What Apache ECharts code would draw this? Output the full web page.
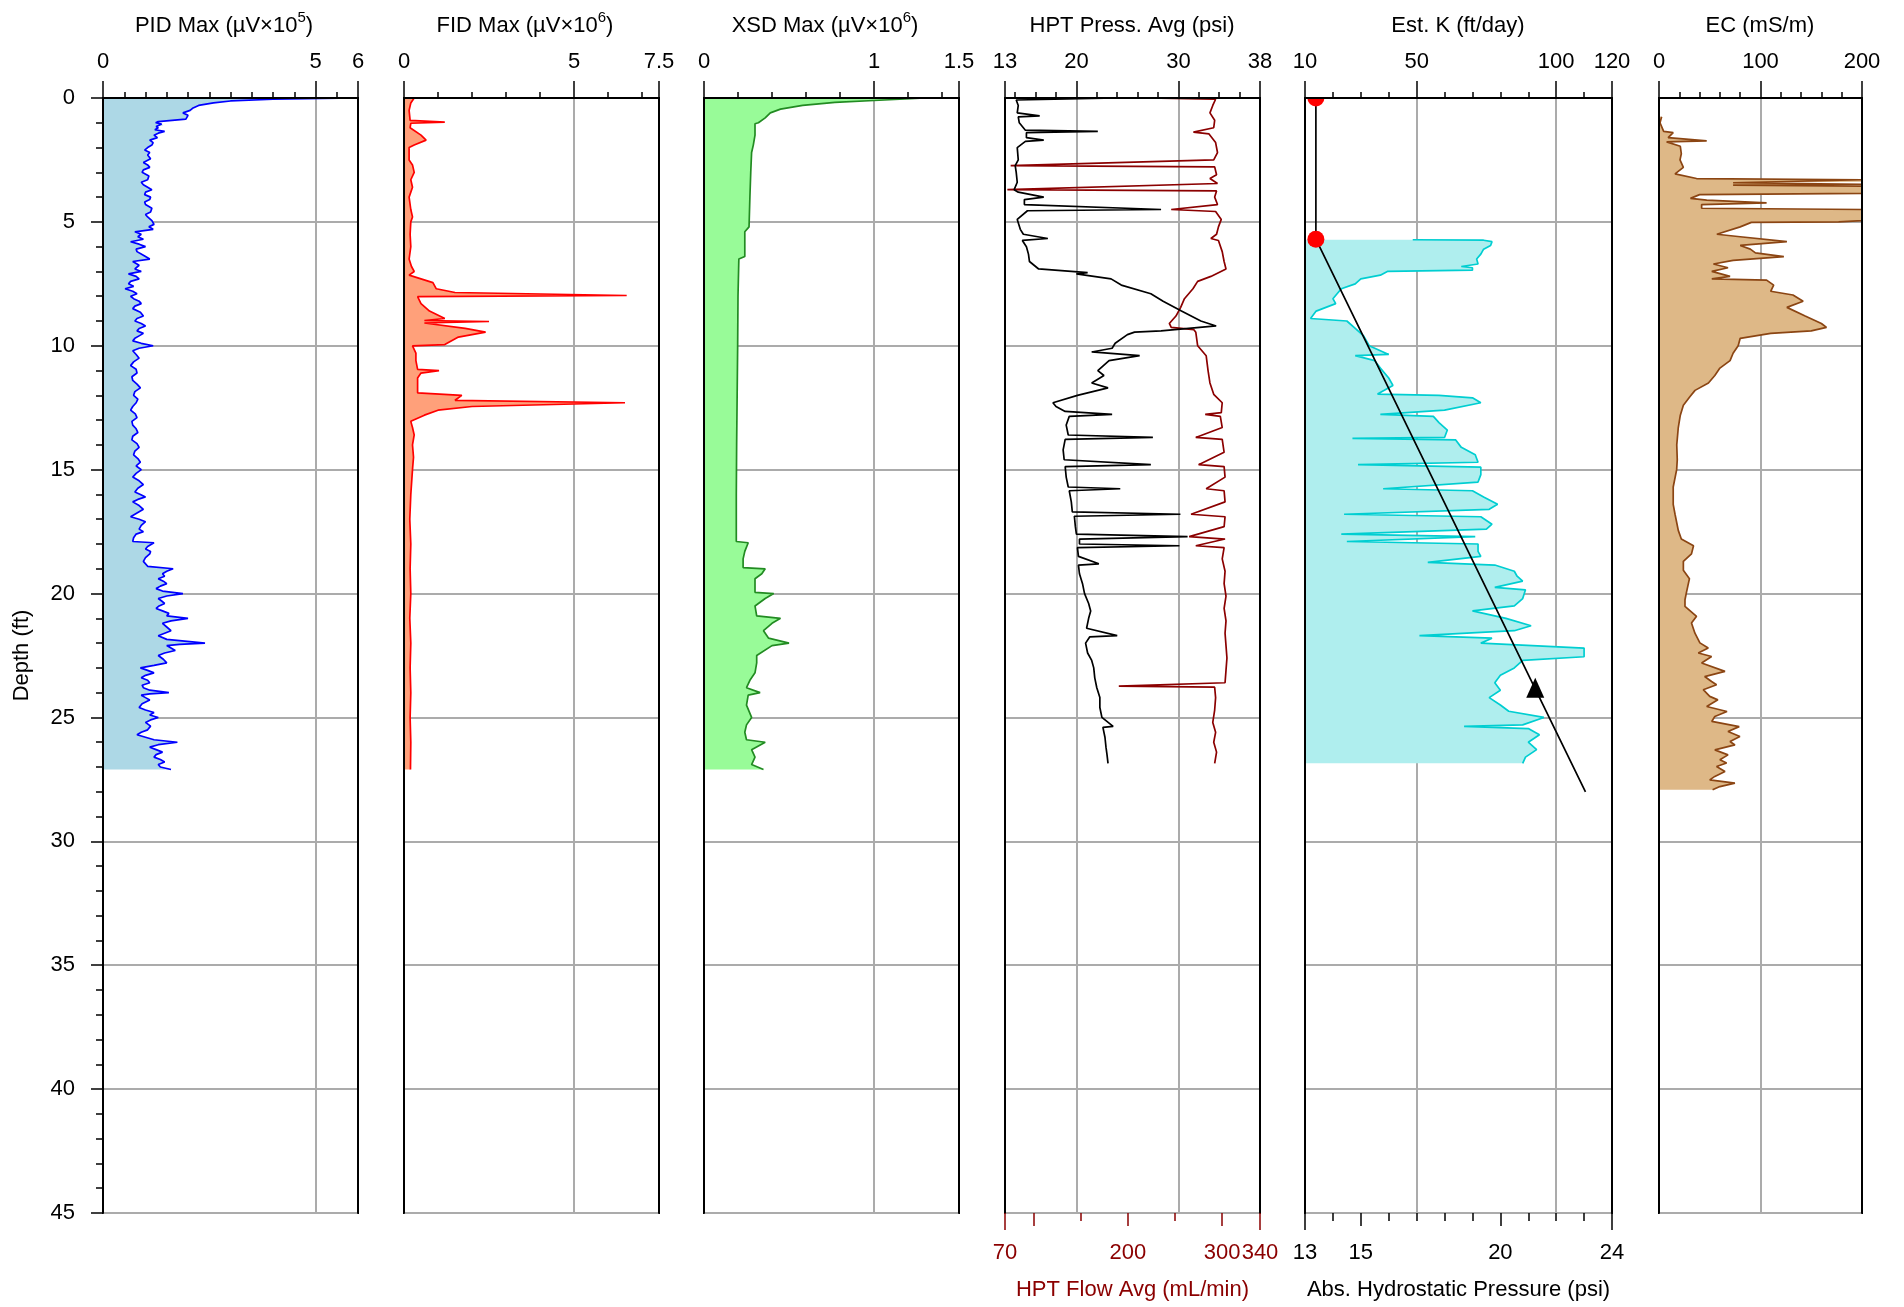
<!DOCTYPE html>
<html><head><meta charset="utf-8">
<script src="https://cdn.jsdelivr.net/npm/echarts@6/dist/echarts.min.js"></script>
<style>html,body{margin:0;padding:0;background:#fff}#c{width:1904px;height:1307px}</style>
</head><body><div id="c"></div>
<script>
// ---------- DATA: [depth (ft), value] ----------
const pidData = [[0,5.95],[0.05,4.0],[0.12,3.0],[0.2,2.6],[0.3,2.25],[0.4,2.12],[0.5,2.05],[0.6,1.88],[0.7,2.0],[0.85,1.95],[0.95,1.3],[1.0,1.24],[1.05,1.38],[1.1,1.42],[1.15,1.25],[1.2,1.3],[1.28,1.22],[1.35,1.45],[1.42,1.3],[1.5,1.2],[1.6,1.28],[1.7,1.1],[1.8,1.18],[1.9,1.15],[2.0,1.05],[2.1,0.98],[2.2,1.1],[2.3,1.05],[2.45,1.12],[2.6,0.95],[2.7,1.05],[2.8,1.1],[2.9,0.95],[3.0,0.92],[3.15,1.08],[3.3,1.05],[3.4,0.9],[3.5,0.95],[3.6,1.05],[3.7,1.15],[3.8,1.0],[3.9,0.98],[4.0,1.12],[4.1,1.1],[4.2,0.98],[4.3,1.0],[4.45,1.15],[4.6,1.12],[4.7,1.0],[4.8,1.05],[4.95,1.15],[5.1,1.2],[5.2,1.08],[5.3,1.18],[5.4,0.75],[5.5,0.9],[5.6,0.82],[5.7,0.95],[5.8,0.65],[5.9,0.85],[6.0,1.0],[6.1,0.78],[6.2,0.8],[6.35,0.95],[6.5,1.1],[6.6,0.7],[6.75,0.85],[6.9,0.75],[7.0,0.9],[7.1,0.6],[7.2,0.78],[7.3,0.85],[7.4,0.65],[7.5,0.6],[7.6,0.72],[7.7,0.52],[7.8,0.7],[7.9,0.8],[8.0,0.65],[8.1,0.72],[8.2,0.85],[8.3,0.9],[8.4,0.75],[8.5,0.7],[8.65,0.88],[8.8,0.95],[8.9,0.8],[9.0,0.75],[9.1,0.9],[9.2,1.0],[9.3,0.85],[9.4,0.8],[9.5,0.95],[9.6,0.85],[9.7,0.75],[9.8,0.7],[9.9,0.9],[10.0,1.18],[10.1,0.85],[10.2,0.7],[10.35,0.78],[10.5,0.85],[10.65,0.72],[10.8,0.65],[10.95,0.78],[11.1,0.8],[11.25,0.68],[11.4,0.7],[11.55,0.8],[11.7,0.88],[11.85,0.75],[12.0,0.72],[12.15,0.82],[12.3,0.78],[12.45,0.7],[12.6,0.65],[12.75,0.76],[12.9,0.8],[13.05,0.68],[13.2,0.7],[13.35,0.78],[13.5,0.82],[13.65,0.7],[13.8,0.68],[13.95,0.8],[14.1,0.85],[14.25,0.75],[14.4,0.72],[14.55,0.82],[14.7,0.88],[14.85,0.78],[15.0,0.9],[15.15,0.78],[15.3,0.7],[15.45,0.85],[15.6,0.95],[15.75,0.82],[15.9,0.75],[16.0,0.88],[16.1,1.0],[16.2,0.82],[16.3,0.7],[16.45,0.85],[16.6,0.95],[16.75,0.8],[16.9,0.65],[17.0,0.85],[17.1,1.0],[17.25,0.9],[17.4,0.85],[17.5,0.95],[17.6,0.78],[17.75,0.72],[17.9,0.7],[17.95,1.2],[18.1,1.05],[18.2,1.0],[18.3,1.12],[18.4,1.1],[18.55,1.0],[18.7,0.95],[18.9,1.05],[19.0,1.65],[19.1,1.5],[19.2,1.4],[19.3,1.45],[19.4,1.3],[19.5,1.42],[19.6,1.5],[19.7,1.35],[19.8,1.25],[19.9,1.4],[20.0,1.88],[20.1,1.5],[20.2,1.3],[20.3,1.38],[20.4,1.45],[20.5,1.32],[20.6,1.25],[20.7,1.4],[20.8,1.55],[20.9,1.5],[21.0,2.0],[21.1,1.6],[21.2,1.4],[21.35,1.5],[21.5,1.6],[21.6,1.45],[21.7,1.3],[21.85,1.5],[22.0,2.4],[22.05,1.8],[22.1,1.5],[22.2,1.6],[22.3,1.7],[22.4,1.45],[22.5,1.3],[22.65,1.42],[22.8,1.5],[22.9,1.2],[23.0,0.88],[23.1,1.05],[23.2,1.2],[23.3,1.0],[23.4,0.9],[23.5,1.05],[23.6,1.1],[23.7,0.92],[23.8,0.95],[23.9,1.1],[24.0,1.55],[24.05,1.1],[24.1,0.9],[24.2,1.0],[24.3,1.1],[24.45,0.92],[24.6,0.85],[24.7,1.0],[24.8,1.2],[24.9,1.1],[25.0,1.3],[25.1,1.12],[25.2,1.0],[25.35,1.12],[25.5,1.05],[25.6,0.9],[25.7,0.8],[25.8,1.0],[25.9,1.2],[26.0,1.75],[26.1,1.3],[26.2,1.1],[26.3,1.25],[26.4,1.4],[26.5,1.25],[26.6,1.2],[26.7,1.35],[26.8,1.45],[26.9,1.3],[27.0,1.35],[27.1,1.6]];

const fidData = [[0,0.3],[0.2,0.2],[0.5,0.15],[0.9,0.18],[0.97,1.2],[1.02,0.2],[1.2,0.18],[1.5,0.5],[1.7,0.65],[1.9,0.3],[2.0,0.15],[2.5,0.15],[2.7,0.25],[3.0,0.3],[3.3,0.2],[3.6,0.25],[4.0,0.15],[4.5,0.2],[4.8,0.25],[5.0,0.2],[5.5,0.18],[6.0,0.2],[6.5,0.15],[6.8,0.22],[7.0,0.3],[7.15,0.15],[7.3,0.5],[7.45,0.85],[7.7,0.95],[7.85,1.5],[7.97,6.55],[8.02,0.4],[8.3,0.5],[8.6,0.75],[8.9,1.2],[8.98,0.6],[9.02,2.5],[9.08,0.6],[9.3,1.8],[9.45,2.4],[9.65,1.6],[9.95,1.2],[10.0,0.25],[10.3,0.35],[10.6,0.35],[10.95,0.4],[11.0,1.03],[11.1,0.5],[11.3,0.4],[11.9,0.4],[12.0,1.7],[12.2,1.5],[12.3,6.5],[12.45,2.0],[12.6,1.0],[12.8,0.6],[13.05,0.2],[13.3,0.25],[13.6,0.3],[14.0,0.25],[14.5,0.28],[15.0,0.25],[16,0.2],[17,0.17],[18,0.2],[19,0.18],[20,0.2],[21,0.17],[22,0.2],[23,0.18],[24,0.2],[25,0.18],[26,0.2],[27.1,0.19]];

const xsdData = [[0,1.3],[0.1,1.0],[0.18,0.77],[0.3,0.58],[0.45,0.45],[0.6,0.39],[0.8,0.36],[1.0,0.32],[1.04,0.30],[1.5,0.30],[1.9,0.29],[2.2,0.28],[3,0.275],[4,0.27],[5.2,0.265],[5.4,0.24],[6.4,0.24],[6.5,0.205],[8,0.2],[10,0.198],[12,0.195],[14,0.192],[16,0.19],[17.9,0.19],[17.95,0.26],[18.3,0.24],[18.6,0.23],[18.95,0.23],[19.0,0.36],[19.2,0.34],[19.4,0.3],[19.95,0.3],[20.0,0.41],[20.2,0.36],[20.5,0.3],[20.9,0.31],[21.0,0.45],[21.2,0.4],[21.5,0.35],[21.8,0.38],[22.0,0.5],[22.1,0.4],[22.5,0.31],[22.8,0.31],[23.2,0.3],[23.5,0.27],[23.8,0.25],[24.0,0.33],[24.1,0.26],[24.5,0.25],[25.0,0.28],[25.3,0.25],[25.6,0.24],[25.9,0.25],[26.0,0.36],[26.3,0.28],[26.6,0.3],[26.9,0.28],[27.1,0.35]];

const pressData = [[0,24],[0.08,14.1],[0.3,14.3],[0.6,14.2],[0.72,16.4],[0.76,14.3],[1.0,14.4],[1.3,15.0],[1.35,22.1],[1.4,15.1],[1.6,15.1],[1.7,16.8],[1.75,15.0],[2.0,14.2],[2.5,14.3],[2.73,14.0],[3.0,14.1],[3.4,14.2],[3.7,13.9],[3.8,14.3],[4.0,16.8],[4.1,14.9],[4.3,14.9],[4.5,28.3],[4.55,15.2],[4.9,14.2],[5.3,14.5],[5.5,14.8],[5.67,17.2],[5.75,14.7],[6.0,15.1],[6.3,15.3],[6.6,15.4],[6.9,16.3],[7.05,21.1],[7.1,20.0],[7.3,23.4],[7.55,24.4],[7.9,27.3],[8.2,28.5],[8.6,30.3],[9.0,32.2],[9.2,33.7],[9.4,28.3],[9.45,25.7],[9.55,25.0],[9.9,23.8],[10.1,23.5],[10.25,21.5],[10.4,26.2],[10.6,23.2],[11.0,22.1],[11.2,22.7],[11.5,21.5],[11.7,23.1],[12.0,20.1],[12.3,17.7],[12.45,18.0],[12.65,18.9],[12.77,23.5],[12.85,19.3],[13.2,19.0],[13.6,19.2],[13.7,27.5],[13.78,18.9],[14.2,18.7],[14.6,18.8],[14.8,27.3],[14.88,18.9],[15.3,19.0],[15.7,19.2],[15.77,24.3],[15.85,19.3],[16.3,19.5],[16.7,19.6],[16.8,30.2],[16.88,19.8],[17.3,19.9],[17.6,20.0],[17.7,30.9],[17.8,20.3],[18.0,20.3],[18.07,30.1],[18.15,20.1],[18.5,20.2],[18.8,22.2],[18.85,20.2],[19.2,20.3],[19.6,20.6],[20.0,20.8],[20.4,21.2],[20.7,21.4],[21.0,21.2],[21.4,21.0],[21.7,24.0],[21.75,21.3],[22.0,20.9],[22.4,21.1],[22.7,21.5],[23.0,21.7],[23.4,21.8],[23.8,22.0],[24.2,22.3],[24.6,22.3],[25.0,22.5],[25.36,23.6],[25.4,22.6],[25.8,22.8],[26.2,22.9],[26.5,23.0],[26.85,23.1]];

const flowData = [[0,220],[0.05,293],[0.3,290],[0.6,287],[0.9,292],[1.2,291],[1.38,269.5],[1.45,286],[1.8,293],[2.2,295],[2.5,291],[2.73,76],[2.78,292],[3.1,294],[3.25,287],[3.45,295],[3.7,72.5],[3.75,294],[4.0,292],[4.3,295],[4.5,246],[4.58,293],[4.9,299],[5.2,296],[5.5,294],[5.67,288],[5.75,296],[6.2,300],[6.6,302],[6.9,304],[7.2,288],[7.4,274],[7.7,269],[8.1,260],[8.45,256],[8.8,251],[9.1,244],[9.26,246],[9.35,270],[9.45,272],[10.0,274],[10.4,283],[11.0,285],[11.5,287],[11.96,291],[12.3,300],[12.7,299],[12.77,282],[12.85,298],[13.3,300],[13.7,272],[13.78,300],[14.3,302],[14.8,275],[14.88,302],[15.3,303],[15.77,283],[15.85,302],[16.3,303],[16.8,267],[16.9,303],[17.3,302],[17.7,265],[17.8,303],[18.07,272],[18.15,302],[18.6,300],[19.1,303],[19.6,302],[20.1,304],[20.6,302],[21.1,304],[21.6,303],[22.1,304],[22.6,305],[23.1,304],[23.6,303],[23.74,190.5],[23.78,292],[24.2,293],[24.7,292],[25.2,290],[25.6,293],[26.0,291],[26.4,294],[26.85,292]];

const kData = [[5.72,48.6],[5.74,74],[5.8,77],[5.95,76.5],[6.1,74],[6.3,73],[6.5,71.5],[6.7,72],[6.8,66],[6.85,70],[6.95,70],[7.0,39.5],[7.15,37],[7.3,30],[7.5,28],[7.7,23],[7.9,21.5],[8.1,20],[8.3,21],[8.6,14],[8.9,12],[9.0,25],[9.3,28],[9.6,31],[10.0,33],[10.35,40],[10.4,28],[10.6,35],[10.9,37],[11.3,40],[11.6,41.5],[11.95,36],[12.0,58],[12.1,70],[12.3,73],[12.6,60],[12.77,37],[12.85,56],[13.1,58],[13.4,61],[13.7,60],[13.74,27],[13.8,64],[14.1,66],[14.4,71],[14.7,72],[14.8,29],[14.9,73],[15.2,73],[15.5,72],[15.77,38],[15.85,70],[16.1,74],[16.4,79],[16.6,76],[16.8,24],[16.9,73],[17.2,77],[17.4,75],[17.6,23],[17.7,71],[17.9,25],[18.0,72],[18.3,72],[18.5,73],[18.74,54],[18.85,78],[19.1,85],[19.3,86],[19.5,88],[19.75,78],[19.85,89],[20.2,88],[20.5,85],[20.7,70],[20.85,76],[21.0,82],[21.3,91],[21.5,85],[21.7,51],[21.8,77],[22.0,73],[22.2,110],[22.55,110],[22.7,88],[23.0,85],[23.3,80],[23.6,78],[23.9,80],[24.2,76],[24.5,80],[24.75,83],[25.0,95.6],[25.3,88],[25.36,67],[25.45,90],[25.7,94],[26.0,90],[26.3,93],[26.6,89],[26.85,88]];

const ecData = [[0.76,2.6],[1.0,1],[1.35,4.6],[1.4,14],[1.6,9],[1.73,47],[1.77,7.5],[1.95,21],[2.25,22],[2.5,20.7],[2.8,24],[3.06,15.8],[3.25,37],[3.3,200],[3.38,200],[3.42,73],[3.48,200],[3.52,73],[3.56,200],[3.85,200],[3.9,40],[4.05,31],[4.12,47],[4.23,106],[4.3,42],[4.45,42],[4.5,200],[4.95,200],[5.0,177],[5.02,91],[5.2,80],[5.5,57],[5.6,80],[5.8,126],[5.95,80],[6.1,90],[6.25,95],[6.4,123],[6.55,73],[6.7,53.6],[6.85,68],[7.0,52],[7.2,70],[7.3,52],[7.35,106],[7.55,113],[7.8,110],[7.95,132],[8.2,142],[8.45,126],[8.8,144],[9.1,160],[9.26,165],[9.4,150],[9.5,110],[9.7,80],[10.0,78],[10.3,73],[10.6,70],[10.9,60],[11.2,55],[11.5,48.7],[11.8,35.5],[12.05,30.6],[12.4,24],[12.8,21],[13.3,19],[14.0,17.5],[14.6,18],[15.0,17.4],[15.7,14],[16.4,14],[16.8,15.8],[17.45,19],[17.8,22],[18.07,34],[18.4,32],[18.7,24],[19.06,24],[19.4,30],[19.96,27],[20.25,25.6],[20.52,25.6],[20.92,37],[21.19,32],[21.6,35.4],[21.99,40.3],[22.2,48.5],[22.4,38.7],[22.54,51.8],[22.8,42],[23.14,65],[23.35,45],[23.55,51.8],[23.68,56.7],[23.88,43.6],[24.15,50],[24.29,58],[24.56,47],[24.76,67],[24.96,55],[25.16,52],[25.37,79],[25.57,68],[25.77,79.7],[25.97,70],[26.11,74.8],[26.31,55],[26.51,68],[26.71,60],[26.84,66.6],[26.98,56.7],[27.18,65],[27.38,55],[27.52,50],[27.65,74.8],[27.79,60],[27.92,52.8]];

// Abs. hydrostatic pressure line [depth, psi]
const hydroData = [[0,13.39],[5.7,13.39],[28,23.05]];
const hydroDots = [[0,13.39],[5.7,13.39]];
const hydroTriangle = [[23.8,21.25]];

// ---------- AXIS TICKS / LABELS ----------
const pidMajor=[0,5,6], pidMinor=[0.5,1,1.5,2,2.5,3,3.5,4,4.5,5.5], pidGrid=[5];
const fidMajor=[0,5,7.5], fidMinor=[1,2,3,4,6,7], fidGrid=[5];
const xsdMajor=[0,1,1.5], xsdMinor=[0.2,0.4,0.6,0.8,1.2,1.4], xsdGrid=[1];
const pressMajor=[13,20,30,38], pressMinor=[14,16,18,22,24,26,28,32,34,36], pressGrid=[20,30];
const kMajor=[10,50,100,120], kMinor=[20,30,40,60,70,80,90,110], kGrid=[50,100];
const ecMajor=[0,100,200], ecMinor=[20,40,60,80,120,140,160,180], ecGrid=[100];
const flowLong=[70,340], flowMid=[100,200,300], flowShort=[150,250], flowLabels=[70,200,300,340];
const absLong=[13,24], absMid=[15,20], absShort=[14,16,17,18,19,21,22,23], absLabels=[13,15,20,24];
const depthTicks = [0,45,5];

const FONT = '"Liberation Sans", Arial, sans-serif';
const GRIDC = '#ababab';
const TOP = 98, H = 1115;

const grids=[], xAxes=[], yAxes=[], series=[];

function addPanel(p){
  const gi = grids.length;
  grids.push({left:p.left, top:TOP, width:p.width, height:H, show:true, borderColor:'#000', borderWidth:2, backgroundColor:'rgba(0,0,0,0)', outerBoundsMode:'none', containLabel:false});
  const b = {gridIndex:gi, type:'value', min:p.min, max:p.max};
  const xg = xAxes.length;
  xAxes.push(Object.assign({}, b, {position:'top', z:0, axisLine:{show:false,onZero:false}, axisTick:{show:false, customValues:p.grid}, axisLabel:{show:false}, splitLine:{show:true, lineStyle:{color:GRIDC, width:2}}}));
  xAxes.push(Object.assign({}, b, {position:'top', z:5, axisLine:{show:true,onZero:false,lineStyle:{color:'#000',width:2}}, axisTick:{show:true, customValues:p.minor, length:6, lineStyle:{color:'#000',width:1.5}}, axisLabel:{show:false}, splitLine:{show:false}}));
  xAxes.push(Object.assign({}, b, {position:'top', z:5, axisLine:{show:false,onZero:false}, axisTick:{show:true, customValues:p.major, length:17, lineStyle:{color:'#000',width:1.5}}, axisLabel:{show:true, customValues:p.major, fontSize:22, fontFamily:FONT, color:'#000', margin:25, hideOverlap:false}, splitLine:{show:false}}));
  const first = gi===0;
  const yg = yAxes.length;
  const yb = {gridIndex:gi, type:'value', inverse:true, min:depthTicks[0], max:depthTicks[1], interval:depthTicks[2]};
  yAxes.push(Object.assign({}, yb, {position:'left', z:0, axisLine:{show:false,onZero:false}, axisTick:{show:false}, axisLabel:{show:false}, splitLine:{show:true, lineStyle:{color:GRIDC, width:2}}}));
  yAxes.push(Object.assign({}, yb, {position:'left', z:5, axisLine:{show:true,onZero:false,lineStyle:{color:'#000',width:2}},
    axisTick:{show:first, length:12, lineStyle:{color:'#000',width:1.5}},
    minorTick:{show:first, splitNumber:5, length:7, lineStyle:{color:'#000',width:1.5}},
    axisLabel:{show:first, fontSize:22, fontFamily:FONT, color:'#000', margin:28},
    splitLine:{show:false},
    name: first ? 'Depth (ft)' : '', nameLocation:'middle', nameGap:70, nameRotate:90,
    nameTextStyle:{fontSize:22, fontFamily:FONT, color:'#000'}}));
  yAxes.push(Object.assign({}, yb, {position:'right', z:5, axisLine:{show:true,onZero:false,lineStyle:{color:'#000',width:2}}, axisTick:{show:false}, axisLabel:{show:false}, splitLine:{show:false}}));
  return {gi, xg, yg};
}

function addBottom(gi, min, max, ticks, len, color, labels, name){
  const idx = xAxes.length;
  xAxes.push({gridIndex:gi, type:'value', min, max, position:'bottom', z:5,
    axisLine:{show:false,onZero:false},
    axisTick:{show:true, customValues:ticks, length:len, lineStyle:{color, width:1.5}},
    axisLabel:{show:!!labels, customValues:labels||ticks, fontSize:22, fontFamily:FONT, color, margin:29, hideOverlap:false},
    splitLine:{show:false},
    name: name||'', nameLocation:'middle', nameGap:66,
    nameTextStyle:{fontSize:22, fontFamily:FONT, color}});
  return idx;
}

function fillSeries(data, xi, yi, color, base){
  return {type:'custom', xAxisIndex:xi, yAxisIndex:yi, clip:true, silent:true, z:1,
    data:[[base, data[0][0]]],
    renderItem: function(params, api){
      const pts = [api.coord([base, data[0][0]])];
      for (const p of data) pts.push(api.coord([p[1], p[0]]));
      pts.push(api.coord([base, data[data.length-1][0]]));
      return {type:'polygon', shape:{points:pts}, style:{fill:color, stroke:null, lineWidth:0}};
    }};
}
function lineSeries(data, xi, yi, color, w){
  return {type:'line', xAxisIndex:xi, yAxisIndex:yi, showSymbol:false, symbol:'none', clip:true, silent:true, z:3,
    lineStyle:{color, width:w||1.7}, data:data.map(p=>[p[1], p[0]])};
}

const panels = [
  {left:103, width:255, min:0, max:6, major:pidMajor, minor:pidMinor, grid:pidGrid},
  {left:404, width:255, min:0, max:7.5, major:fidMajor, minor:fidMinor, grid:fidGrid},
  {left:704, width:255, min:0, max:1.5, major:xsdMajor, minor:xsdMinor, grid:xsdGrid},
  {left:1005, width:255, min:13, max:38, major:pressMajor, minor:pressMinor, grid:pressGrid},
  {left:1305, width:307, min:10, max:120, major:kMajor, minor:kMinor, grid:kGrid},
  {left:1659, width:203, min:0, max:200, major:ecMajor, minor:ecMinor, grid:ecGrid}
];
const P = panels.map(addPanel);

// PID
series.push(fillSeries(pidData, P[0].xg, P[0].yg, '#add8e6', 0));
series.push(lineSeries(pidData, P[0].xg, P[0].yg, '#0000ff'));
// FID
series.push(fillSeries(fidData, P[1].xg, P[1].yg, '#ffa07a', 0));
series.push(lineSeries(fidData, P[1].xg, P[1].yg, '#ff0000'));
// XSD
series.push(fillSeries(xsdData, P[2].xg, P[2].yg, '#98fb98', 0));
series.push(lineSeries(xsdData, P[2].xg, P[2].yg, '#228b22'));
// HPT
const DR = '#8b0000';
const flowAx = addBottom(P[3].gi, 70, 340, flowLong, 17, DR, flowLabels, 'HPT Flow Avg (mL/min)');
addBottom(P[3].gi, 70, 340, flowMid, 13, DR, null, null);
addBottom(P[3].gi, 70, 340, flowShort, 8, DR, null, null);
series.push(lineSeries(flowData, flowAx, P[3].yg, DR));
series.push(lineSeries(pressData, P[3].xg, P[3].yg, '#000000'));
// K
const absAx = addBottom(P[4].gi, 13, 24, absLong, 17, '#000', absLabels, 'Abs. Hydrostatic Pressure (psi)');
addBottom(P[4].gi, 13, 24, absMid, 13, '#000', null, null);
addBottom(P[4].gi, 13, 24, absShort, 8, '#000', null, null);
series.push(fillSeries(kData, P[4].xg, P[4].yg, '#afeeee', 10));
series.push(lineSeries(kData, P[4].xg, P[4].yg, '#00ced1'));
series.push(lineSeries(hydroData, absAx, P[4].yg, '#000000', 1.7));
series.push({type:'custom', xAxisIndex:absAx, yAxisIndex:P[4].yg, clip:true, silent:true, z:4,
  data: hydroDots.map(p=>[p[1],p[0]]),
  renderItem:(params, api)=>{ const c = api.coord([api.value(0), api.value(1)]); return {type:'circle', shape:{cx:c[0], cy:c[1], r:8.5}, style:{fill:'#ff0000'}}; }});
series.push({type:'scatter', xAxisIndex:absAx, yAxisIndex:P[4].yg, silent:true, z:4, symbol:'triangle', symbolSize:[18,20],
  itemStyle:{color:'#000', opacity:1}, data: hydroTriangle.map(p=>[p[1],p[0]])});
// EC
series.push(fillSeries(ecData, P[5].xg, P[5].yg, '#deb887', 0));
series.push(lineSeries(ecData, P[5].xg, P[5].yg, '#8b4513'));

// titles
const rich = {a:{fontSize:22, fontFamily:FONT, color:'#000', lineHeight:32}, s:{fontSize:15, fontFamily:FONT, color:'#000', lineHeight:15, verticalAlign:'top'}};
const titles = [
  {x:224, t:'{a|PID Max (µV×10}{s|5}{a|)}'},
  {x:525, t:'{a|FID Max (µV×10}{s|6}{a|)}'},
  {x:825, t:'{a|XSD Max (µV×10}{s|6}{a|)}'},
  {x:1132, t:'{a|HPT Press. Avg (psi)}'},
  {x:1458, t:'{a|Est. K (ft/day)}'},
  {x:1760, t:'{a|EC (mS/m)}'}
];
const graphic = titles.map(o=>({type:'text', x:o.x, y:26, silent:true,
  style:{text:o.t, rich, align:'center', textAlign:'center', verticalAlign:'middle', textVerticalAlign:'middle', fill:'#000'}}));

const chart = echarts.init(document.getElementById('c'), null, {renderer:'canvas'});
chart.setOption({animation:false, backgroundColor:'#fff', grid:grids, xAxis:xAxes, yAxis:yAxes, series, graphic});
</script></body></html>
